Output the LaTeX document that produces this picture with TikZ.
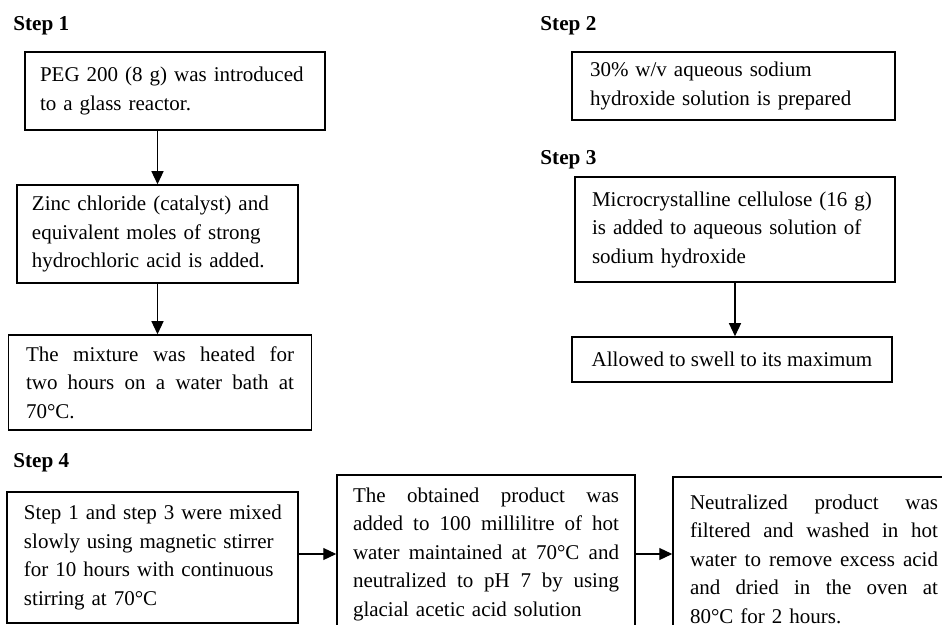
\documentclass[tikz,border=0pt]{standalone}
\usepackage{fontspec}
\setmainfont{Liberation Serif}
\usetikzlibrary{arrows.meta}
\newcommand{\jl}[2]{\leavevmode\hbox to #1{\spaceskip=0.25em plus 1fil\xspaceskip=0.25em plus 1fil\relax #2}}
\begin{document}
\begin{tikzpicture}[x=0.5pt,y=-0.5pt,
  txt/.style={font=\fontsize{10.5pt}{14.25pt}\selectfont},
  stepbox/.style={txt,draw,line width=0.75pt,inner sep=0pt,align=left},
  lbl/.style={font=\fontsize{10.6pt}{14.25pt}\selectfont\bfseries,anchor=base west,inner sep=0pt},
  arr/.style={line width=0.6pt,-{Triangle[length=6.5pt,width=6pt]}}]
\useasboundingbox (0,0) rectangle (942,625);
\clip (0,0) rectangle (942,625);

% labels
\node[lbl] (s1) at (13,31) {Step 1};
\node[lbl] (s2) at (540,31) {Step 2};
\node[lbl] (s3) at (540,165) {Step 3};
\node[lbl] (s4) at (13,467) {Step 4};

% step 1 column
\node[stepbox,minimum width=150pt,minimum height=39pt,text width=135pt] (b1) at (175,91)
  {\mbox{PEG 200 (8 g) was introduced}\\\mbox{to a glass reactor.}};
\node[stepbox,minimum width=140.5pt,minimum height=49pt,text width=125.5pt] (b2) at (157.5,234)
  {\mbox{Zinc chloride (catalyst) and}\\\mbox{equivalent moles of strong}\\\mbox{hydrochloric acid is added.}};
\node[stepbox,minimum width=151.5pt,minimum height=47.5pt,text width=134pt] (b3) at (160,382.5)
  {\jl{134pt}{The mixture was heated for}\\\jl{134pt}{two hours on a water bath at}\\\mbox{70°C.}};

% step 2 and 3
\node[stepbox,minimum width=161.5pt,minimum height=34pt,text width=143.5pt] (b5) at (733.5,86)
  {\mbox{30\% w/v aqueous sodium}\\\mbox{hydroxide solution is prepared}};
\node[stepbox,minimum width=160pt,minimum height=52.5pt,text width=143pt] (b6) at (735,229.5)
  {\mbox{Microcrystalline cellulose (16 g)}\\\mbox{is added to aqueous solution of}\\\mbox{sodium hydroxide}};
\node[stepbox,align=center,minimum width=160pt,minimum height=22.5pt] (b7) at (732,359.5)
  {Allowed to swell to its maximum};

% step 4
\node[stepbox,minimum width=145.5pt,minimum height=65.5pt,text width=128.5pt] (b8) at (152.5,557.5)
  {\mbox{Step 1 and step 3 were mixed}\\\mbox{slowly using magnetic stirrer}\\\mbox{for 10 hours with continuous}\\\mbox{stirring at 70°C}};
\node[stepbox,minimum width=149pt,minimum height=79pt,text width=133pt] (b9) at (486,554)
  {\jl{133pt}{The obtained product was}\\\jl{133pt}{added to 100 millilitre of hot}\\\jl{133pt}{water maintained at 70°C and}\\\jl{133pt}{neutralized to pH 7 by using}\\\mbox{glacial acetic acid solution}};
\node[stepbox,minimum width=141pt,minimum height=82pt,text width=124pt] (b10) at (814,559)
  {\jl{124pt}{Neutralized product was}\\\jl{124pt}{filtered and washed in hot}\\\jl{124pt}{water to remove excess acid}\\\jl{124pt}{and dried in the oven at}\\\mbox{80°C for 2 hours.}};

% arrows
\draw[arr] (b1.south -| b2.north) -- (b2.north);
\draw[arr] (b2.south) -- (b2.south |- b3.north);
\draw[arr] (b6.south) -- (b6.south |- b7.north);
\draw[arr] (b9.west -| b8.east) -- (b9.west);
\draw[arr] (b9.east) -- (b9.east -| b10.west);
\end{tikzpicture}
\end{document}
